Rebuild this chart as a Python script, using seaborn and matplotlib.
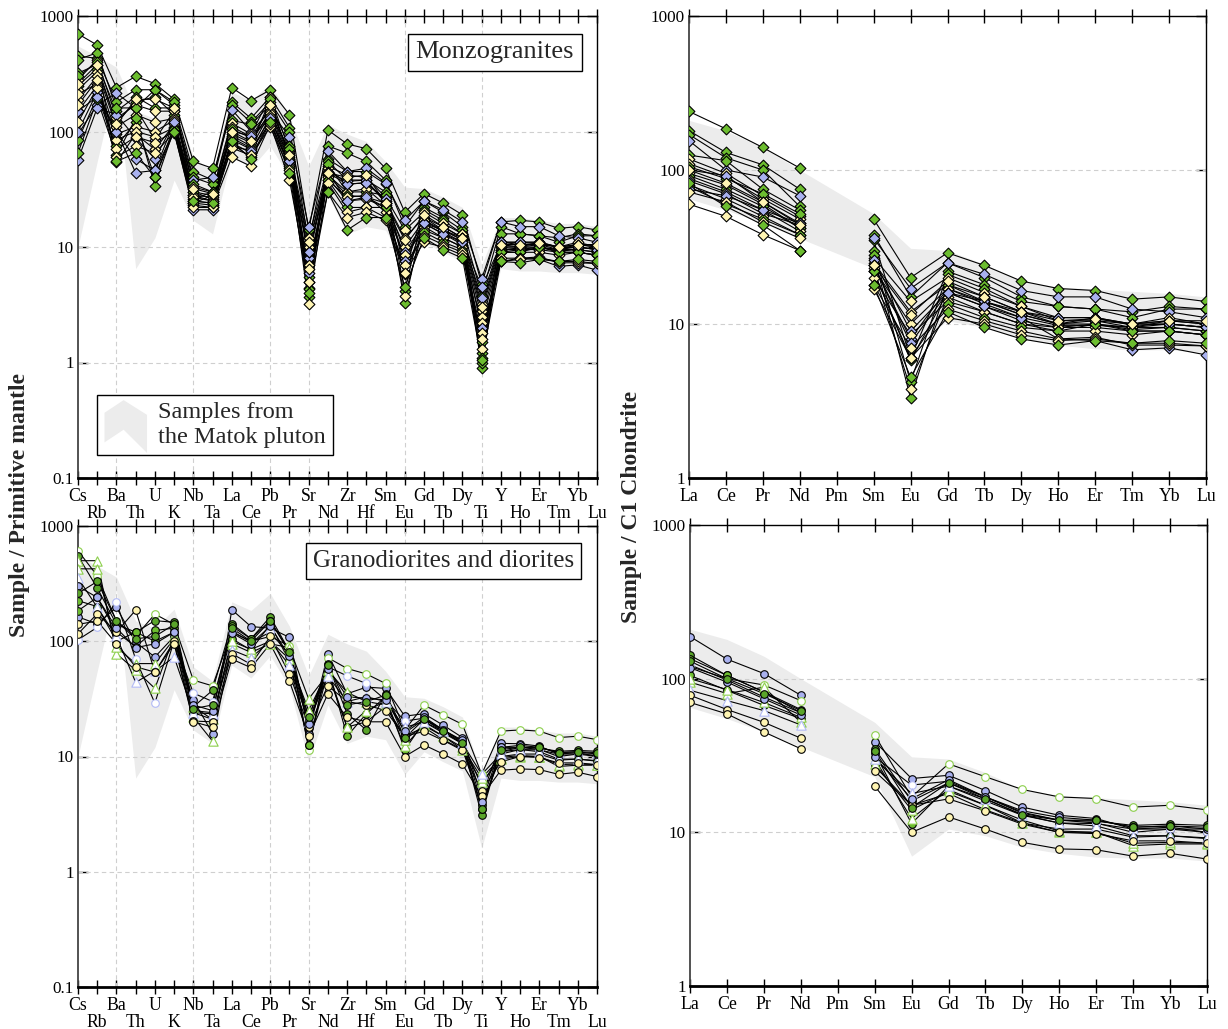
import numpy as np
import pandas as pd
import matplotlib
matplotlib.use("Agg")
import matplotlib.pyplot as plt
import seaborn as sns
from matplotlib.patches import Patch, Polygon
from matplotlib.legend_handler import HandlerPatch
from matplotlib.ticker import FixedLocator, FixedFormatter, NullLocator

sns.set_theme(style="ticks")
plt.rcParams["font.family"] = ["Liberation Serif", "DejaVu Serif"]
plt.rcParams["axes.edgecolor"] = "black"

# ---------------------------------------------------------------- elements
spider_elems = ["Cs", "Rb", "Ba", "Th", "U", "K", "Nb", "Ta", "La", "Ce", "Pb", "Pr",
                "Sr", "Nd", "Zr", "Hf", "Sm", "Eu", "Gd", "Tb", "Dy", "Ti", "Y", "Ho",
                "Er", "Tm", "Yb", "Lu"]
ree_elems = ["La", "Ce", "Pr", "Nd", "Pm", "Sm", "Eu", "Gd", "Tb", "Dy", "Ho", "Er",
             "Tm", "Yb", "Lu"]
ree_meas = ["La", "Ce", "Pr", "Nd", "Sm", "Eu", "Gd", "Tb", "Dy", "Ho", "Er", "Tm", "Yb", "Lu"]
trace_elems = ["Cs", "Rb", "Ba", "Th", "U", "K", "Nb", "Ta", "Pb", "Sr", "Zr", "Hf", "Ti", "Y"]

# ---------------------------------------------------------------- Matok pluton field
spider_band_low = [10, 55, 280, 6.5, 12, 38, 17, 13, 62, 48, 75, 40, 9, 28, 13, 15, 14, 7,
                   11, 9, 7.5, 1.6, 6.5, 6.2, 6.2, 6.0, 6.0, 5.8]
spider_band_high = [550, 450, 360, 150, 130, 190, 60, 45, 220, 185, 260, 135, 50, 115, 95,
                    82, 55, 33, 32, 27, 22, 7, 18, 18, 17, 16, 16, 15]
ree_band_low = [65, 55, 45, 36, 23, 7, 10.5, 9.5, 8, 7.3, 6.9, 6.8, 6.8, 6.5]
ree_band_high = [210, 180, 140, 100, 52, 31, 30, 24.5, 19, 17.4, 16.8, 16.3, 15.8, 15]

# ---------------------------------------------------------------- monzogranites
monzo_ids = [f"M{i}" for i in range(1, 21)]
monzo_group = ["G", "G", "G", "B", "G", "Y", "Y", "G", "B", "Y",
               "G", "Y", "B", "Y", "G", "B", "Y", "Y", "G", "Y"]
# La Ce Pr Nd Sm Eu Gd Tb Dy Ho Er Tm Yb Lu
monzo_ree = [
    [240, 185, 140, 103, 48, 20, 29, 24, 19, 17, 16.5, 14.5, 15, 14],
    [180, 130, 108, 75, 38, 15, 25, 20, 15, 13, 12.5, 12, 13, 12.5],
    [170, 120, 100, 58, 35, 6.0, 22, 18, 14, 13, 12.5, 11, 12.5, 12.5],
    [155, 100, 90, 68, 36, 17, 25, 21, 16.5, 15, 15, 12.5, 12, 11],
    [125, 115, 75, 55, 30, 4.2, 21, 17, 13, 11, 11, 10, 10.5, 10],
    [118, 95, 68, 50, 27, 14, 20, 16, 13, 10.5, 10.5, 10, 11, 10],
    [110, 90, 65, 48, 25, 12, 18, 14, 11.5, 10, 10, 9.5, 10, 9.5],
    [105, 88, 70, 52, 28, 3.3, 18, 15, 12, 10, 11, 9.8, 10, 9.5],
    [100, 92, 62, 45, 24, 8, 17, 14, 11.5, 10, 10.5, 9.5, 10.5, 10],
    [95, 80, 60, 42, 23, 10, 17, 13.5, 11, 9.8, 9.8, 9.5, 9.5, 9],
    [92, 75, 58, 42, 22, 5.8, 16, 13, 10.5, 9.5, 10, 9.2, 9.5, 9],
    [88, 72, 55, 40, 22, 3.8, 15, 12, 10, 9.5, 9.5, 9, 9, 8.5],
    [85, 70, 52, 44, 26, 9, 16, 14, 12, 11, 11, 10, 10, 9.5],
    [80, 65, 50, 38, 20, 8.5, 14, 12, 10, 9, 9, 8.5, 9, 8.5],
    [78, 60, 48, 38, 22, 6, 13.5, 11, 9.5, 9, 10, 9, 9, 8.5],
    [75, 68, 55, 45, 24, 7.5, 16, 13, 11, 8, 7.8, 6.8, 7, 6.3],
    [72, 62, 46, 36, 18, 7, 12.5, 10.5, 9, 8, 8.2, 7.3, 7.3, 7.2],
    [60, 50, 38, 30, 17, 6, 11, 10, 8.5, 7.8, 8, 7.5, 7.5, 7.2],
    [82, 58, 44, 30, 18, 4.5, 12, 9.5, 8, 7.3, 7.8, 7.5, 7.8, 7.5],
    [100, 82, 62, 44, 24, 11.5, 19, 15, 12, 10.5, 10.8, 10, 10.5, 10.5],
]
# Cs Rb Ba Th U K Nb Ta Pb Sr Zr Hf Ti Y
monzo_trace = [
    [700, 560, 240, 300, 260, 190, 55, 48, 229, 14, 78, 71, 4.8, 16.5],
    [450, 430, 180, 230, 230, 170, 45, 38, 200, 11, 65, 55, 3.8, 15],
    [320, 380, 150, 200, 160, 160, 40, 35, 180, 4.4, 45, 45, 1.2, 13],
    [95, 170, 215, 160, 85, 150, 38, 40, 150, 15, 45, 48, 5.3, 16.5],
    [250, 350, 120, 180, 200, 140, 35, 30, 170, 3.7, 38, 38, 0.89, 11],
    [280, 420, 130, 170, 150, 150, 33, 30, 200, 12, 42, 40, 3.2, 11],
    [230, 330, 110, 140, 120, 130, 30, 28, 160, 10, 35, 36, 2.8, 10],
    [84, 200, 75, 120, 40, 110, 30, 26, 140, 4.3, 30, 30, 1.0, 10],
    [57, 160, 140, 88, 58, 120, 28, 25, 126, 8, 37, 38, 4.5, 10.5],
    [187, 300, 95, 110, 100, 125, 28, 27, 150, 9, 30, 32, 2.5, 9.5],
    [420, 480, 160, 160, 230, 180, 26, 30, 190, 5, 28, 27, 1.5, 9.5],
    [210, 260, 54, 95, 70, 115, 25, 24, 146, 3.2, 25, 26, 1.3, 9],
    [100, 220, 100, 58, 46, 100, 21, 21, 118, 9, 35, 36, 3.6, 11],
    [150, 250, 85, 100, 90, 108, 27, 25, 135, 7, 27, 28, 2.2, 9],
    [65, 190, 62, 130, 34, 105, 24, 28, 125, 5.5, 22, 22, 1.1, 9],
    [150, 200, 100, 44, 46, 120, 23, 22, 130, 6, 25, 27, 2.0, 7.5],
    [120, 240, 70, 90, 80, 100, 24, 23, 110, 6.5, 20, 22, 1.8, 8],
    [170, 280, 60, 75, 65, 98, 22, 22, 115, 5, 18, 20, 1.6, 7.5],
    [300, 400, 55, 65, 40, 100, 25, 24, 120, 4, 14, 18, 1.05, 7.5],
    [260, 380, 115, 190, 190, 160, 32, 29, 170, 11, 40, 42, 3.0, 10.5],
]

# ---------------------------------------------------------------- granodiorites and diorites
dio_ids = [f"D{i}" for i in range(1, 14)]
dio_group = ["Bf", "Go", "DGf", "Gf", "Bo", "Gf", "Gt", "Gt", "Bt", "Yf", "Yf", "Bf", "DGf"]
dio_ree = [
    [188, 134, 108, 78, 39, 22.4, 23.5, 18.7, 14.6, 12.9, 12.3, 10.5, 10.8, 10],
    [120, 100, 91, 72, 43, 17, 27.9, 23, 19, 17, 16.6, 14.6, 15, 14],
    [142, 105, 82, 63, 35, 16, 21, 17, 13.3, 12, 11.8, 11.1, 11.3, 11.1],
    [135, 105, 82, 60, 33, 11.4, 20, 16, 12.9, 11.5, 11.4, 10.5, 10.5, 10.5],
    [123, 98, 76, 60, 31, 20.3, 21.5, 17, 13.5, 12, 11.5, 10, 10.5, 10],
    [105, 84, 67, 55, 27, 15, 17.9, 14, 11.5, 10.5, 10.5, 9.3, 9.5, 9.1],
    [95, 80, 88, 52, 30, 12.3, 19, 15, 11.5, 10, 10, 8.2, 8.4, 8.4],
    [100, 85, 70, 56, 28, 14, 18.5, 15, 12, 10.2, 10, 8.5, 8.6, 8.5],
    [84, 72, 62, 50, 30, 17.9, 20, 16.5, 13, 11.5, 11, 9.5, 9.5, 9.2],
    [78, 63, 52, 41, 25, 15, 16.5, 13.8, 11.3, 10, 9.8, 8.8, 8.8, 8.5],
    [70, 59, 45, 35, 20, 10, 12.6, 10.5, 8.6, 7.8, 7.7, 7.0, 7.3, 6.7],
    [118, 95, 74, 58, 31, 16.5, 22, 17, 13.8, 12.5, 12, 10.8, 11, 10.5],
    [130, 100, 80, 62, 34, 14.5, 21, 16.5, 13, 12, 12, 10.8, 11, 10.8],
]
dio_trace = [
    [163, 141, 197, 98, 73, 110, 31, 15.8, 130, 15.8, 35, 40, 4.5, 13],
    [610, 370, 150, 110, 172, 140, 46, 41, 110, 11.5, 58, 52, 7, 16.6],
    [550, 290, 140, 120, 151, 146, 27, 37.5, 163, 12.5, 23.5, 17, 3.1, 12],
    [184, 240, 120, 90, 124, 130, 25, 24, 151, 20, 15, 23.5, 3.5, 11],
    [103, 132, 218, 70, 29, 101, 35.5, 30, 120, 22, 50, 43, 5.5, 11],
    [225, 200, 100, 120, 100, 120, 24, 21, 140, 12.5, 18, 20, 3.8, 10],
    [500, 500, 78, 56, 39, 110, 22, 13.6, 95, 31.6, 18, 25, 6, 9.5],
    [425, 425, 89, 64, 64, 105, 27, 21, 100, 25, 36, 30, 6.5, 9.8],
    [354, 197, 110, 44, 55, 73, 24, 23.5, 100, 20, 30, 33, 7, 10.5],
    [116, 173, 120, 186, 54, 100, 20.3, 20, 110, 18, 30, 28, 5, 9],
    [140, 150, 95, 60, 54, 95, 20, 18, 95, 15, 22, 20, 4.5, 7.6],
    [300, 240, 130, 88, 95, 120, 28, 25, 135, 19, 33, 32, 4, 12],
    [260, 330, 150, 105, 110, 140, 26, 28, 150, 22, 28, 30, 3.5, 11.5],
]

# ---------------------------------------------------------------- styles
GREEN = "#6cbd2f"
DGREEN = "#5aa52a"
BLUE = "#a9b1ef"
YELLOW = "#fff5b3"
OGREEN = "#8ccf4c"
OBLUE = "#b3bbf6"
BAND = "#ececec"

monzo_style = {"G": ("D", GREEN, "black", 30),
               "B": ("D", BLUE, "black", 30),
               "Y": ("D", YELLOW, "black", 30)}
dio_style = {"Bf": ("o", BLUE, "black", 30),
             "Gf": ("o", GREEN, "black", 30),
             "DGf": ("o", DGREEN, "black", 30),
             "Yf": ("o", YELLOW, "black", 30),
             "Go": ("o", "white", OGREEN, 30),
             "Bo": ("o", "white", OBLUE, 30),
             "Gt": ("^", "white", OGREEN, 45),
             "Bt": ("^", "white", OBLUE, 45)}


def spider_frame(ids, trace, ree):
    rows = []
    for sid, tr, re in zip(ids, trace, ree):
        vals = dict(zip(trace_elems, tr))
        vals.update(dict(zip(ree_meas, re)))
        for i, el in enumerate(spider_elems):
            rows.append((sid, el, i, vals[el], sid))
    return pd.DataFrame(rows, columns=["sample", "element", "pos", "value", "unit"])


def ree_frame(ids, ree):
    rows = []
    for sid, re in zip(ids, ree):
        vals = dict(zip(ree_meas, re))
        for i, el in enumerate(ree_elems):
            if el == "Pm":
                continue
            seg = 0 if i < 4 else 1
            rows.append((sid, el, i, vals[el], f"{sid}_{seg}"))
    return pd.DataFrame(rows, columns=["sample", "element", "pos", "value", "unit"])


def draw_samples(ax, df, ids, groups, styles):
    sns.lineplot(data=df, x="pos", y="value", units="unit", estimator=None,
                 color="black", lw=0.8, ax=ax, legend=False, zorder=2, sort=True)
    for sid, g in zip(ids, groups):
        m, fc, ec, s = styles[g]
        sub = df[df["sample"] == sid]
        sns.scatterplot(data=sub, x="pos", y="value", marker=m, color=fc,
                        edgecolor=ec, linewidth=0.8, s=s, ax=ax, legend=False, zorder=3)


def style_axes(ax, labels, ymin, two_rows, vgrid):
    ax.set_yscale("log")
    ax.set_xlim(0, len(labels) - 1)
    ax.set_ylim(ymin, 1000)
    ax.set_xticks(range(len(labels)))
    ax.set_xticklabels(labels)
    dec = [d for d in [0.1, 1, 10, 100, 1000] if d >= ymin]
    ax.yaxis.set_major_locator(FixedLocator(dec))
    ax.yaxis.set_major_formatter(FixedFormatter([("%g" % d) for d in dec]))
    ax.yaxis.set_minor_locator(NullLocator())
    ax.xaxis.set_minor_locator(NullLocator())
    ax.tick_params(axis="x", which="major", direction="inout", length=10, width=1,
                   top=True, bottom=True, labelsize=12.8, pad=2, colors="black")
    ax.tick_params(axis="y", which="major", direction="in", length=7, width=1,
                   left=True, right=True, labelsize=12.3, pad=3, colors="black")
    ax.set_xlabel("")
    ax.set_ylabel("")
    for v in dec[1:-1]:
        ax.axhline(v, color="#cfcfcf", ls=(0, (4, 3)), lw=0.8, zorder=1)
    for xv in vgrid:
        ax.axvline(xv, color="#cfcfcf", ls=(0, (4, 3)), lw=0.8, zorder=1)
    for side in ["top", "right", "left"]:
        ax.spines[side].set_linewidth(1.0)
        ax.spines[side].set_color("black")
    ax.spines["left"].set_color("#444444")
    ax.spines["left"].set_linewidth(1.3)
    ax.spines["bottom"].set_linewidth(2.0)
    ax.spines["bottom"].set_color("black")
    ax.set_facecolor("white")
    if two_rows:
        for i, t in enumerate(ax.xaxis.get_major_ticks()):
            t.set_pad(2 if i % 2 == 0 else 14.5)


def chevron(legend, orig_handle, xdescent, ydescent, width, height, fontsize):
    x0, y0 = -xdescent, -ydescent
    pts = [(x0, y0 + 0.10 * height), (x0, y0 + 0.80 * height),
           (x0 + 0.45 * width, y0 + 1.10 * height), (x0 + width, y0 + 0.75 * height),
           (x0 + width, y0 - 0.15 * height), (x0 + 0.45 * width, y0 + 0.40 * height)]
    return Polygon(pts, closed=True, facecolor=BAND, edgecolor="none")


fig = plt.figure(figsize=(12.28, 10.29), dpi=100)
W, H = 1228.0, 1029.0
axTL = fig.add_axes([78 / W, 1 - 478 / H, 519 / W, 462 / H])
axBL = fig.add_axes([78 / W, 1 - 987 / H, 519 / W, 461 / H])
axTR = fig.add_axes([689 / W, 1 - 478 / H, 517 / W, 462 / H])
axBR = fig.add_axes([690 / W, 1 - 986 / H, 517 / W, 461 / H])

spider_x = np.arange(len(spider_elems))
ree_x = np.array([ree_elems.index(e) for e in ree_meas])

for ax in (axTL, axBL):
    ax.set_yscale("log")
    ax.fill_between(spider_x, spider_band_low, spider_band_high, color=BAND, lw=0, zorder=0)
for ax in (axTR, axBR):
    ax.set_yscale("log")
    ax.fill_between(ree_x, ree_band_low, ree_band_high, color=BAND, lw=0, zorder=0)

draw_samples(axTL, spider_frame(monzo_ids, monzo_trace, monzo_ree), monzo_ids, monzo_group, monzo_style)
draw_samples(axBL, spider_frame(dio_ids, dio_trace, dio_ree), dio_ids, dio_group, dio_style)
draw_samples(axTR, ree_frame(monzo_ids, monzo_ree), monzo_ids, monzo_group, monzo_style)
draw_samples(axBR, ree_frame(dio_ids, dio_ree), dio_ids, dio_group, dio_style)

vgrid_spider = [spider_elems.index(e) for e in ["Ba", "Nb", "Pb", "Sr", "Eu", "Ti"]]
style_axes(axTL, spider_elems, 0.1, True, vgrid_spider)
style_axes(axBL, spider_elems, 0.1, True, vgrid_spider)
style_axes(axTR, ree_elems, 1, False, [])
style_axes(axBR, ree_elems, 1, False, [])

box = dict(boxstyle="square,pad=0.28", fc="white", ec="black", lw=1)
axTL.text(0.956, 0.945, "Monzogranites", transform=axTL.transAxes, ha="right", va="top",
          fontsize=19, bbox=box, zorder=6)
axBL.text(0.956, 0.947, "Granodiorites and diorites", transform=axBL.transAxes, ha="right",
          va="top", fontsize=18, bbox=box, zorder=6)

leg = axTL.legend(handles=[Patch(facecolor=BAND, edgecolor="none")],
                  labels=["Samples from\nthe Matok pluton"], loc="lower left",
                  bbox_to_anchor=(0.037, 0.05), borderaxespad=0, fontsize=17.5,
                  handlelength=1.75, handleheight=2.3, handletextpad=0.45, borderpad=0.3,
                  frameon=True, fancybox=False, edgecolor="black", framealpha=1,
                  handler_map={Patch: HandlerPatch(patch_func=chevron)})
leg.get_frame().set_linewidth(1.0)
leg.set_zorder(6)

fig.text(20 / W, 1 - 505 / H, "Sample / Primitive mantle", rotation=90, ha="center",
         va="center", fontsize=17, fontweight="bold")
fig.text(632 / W, 1 - 507 / H, "Sample / C1 Chondrite", rotation=90, ha="center",
         va="center", fontsize=17, fontweight="bold")

fig.savefig("out.png", dpi=100, facecolor="white")
